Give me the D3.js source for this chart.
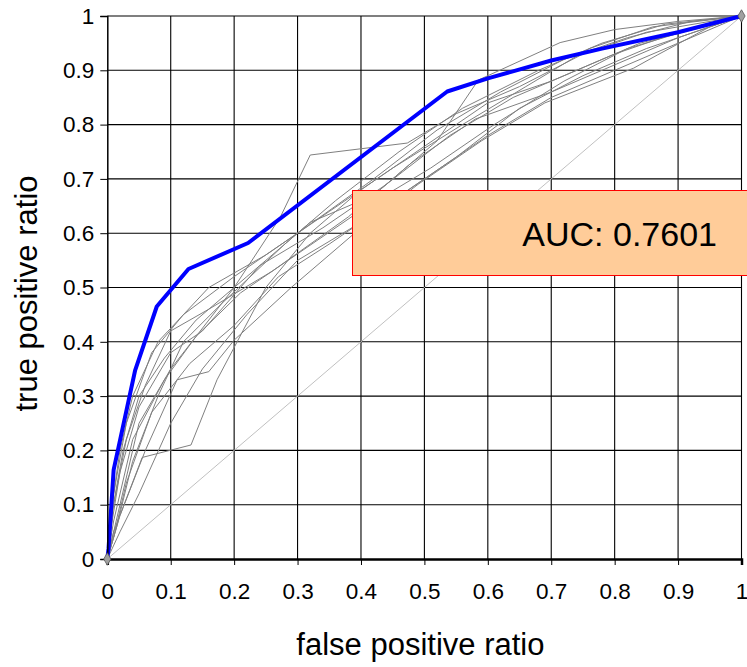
<!DOCTYPE html>
<html><head><meta charset="utf-8">
<script src="https://cdn.jsdelivr.net/npm/d3@7"></script>
<style>html,body{margin:0;padding:0;background:#fff;}svg{display:block;font-family:"Liberation Sans",Arial,sans-serif;}</style>
</head><body><svg id="c" width="747" height="667"></svg>
<script>
const tickValues = [0,0.1,0.2,0.3,0.4,0.5,0.6,0.7,0.8,0.9,1];
const tickLabels = ["0","0.1","0.2","0.3","0.4","0.5","0.6","0.7","0.8","0.9","1"];
const xTitle = "false positive ratio";
const yTitle = "true positive ratio";
const aucLabel = "AUC: 0.7601";
const meanCurve = [[0,0],[0.002,0.02],[0.01,0.164],[0.044,0.348],[0.078,0.465],[0.128,0.534],[0.222,0.582],[0.536,0.861],[0.6,0.885],[0.7,0.918],[0.78,0.94],[0.9,0.97],[1,1]];
const foldCurves = [
 [[0,0],[0.01,0.05],[0.055,0.187],[0.132,0.21],[0.173,0.33],[0.25,0.5],[0.32,0.6],[0.4,0.68],[0.5,0.76],[0.6,0.84],[0.7,0.88],[0.8,0.93],[0.9,0.97],[1,1]],
 [[0,0],[0.02,0.1],[0.05,0.25],[0.1,0.35],[0.2,0.5],[0.273,0.63],[0.32,0.744],[0.473,0.766],[0.55,0.82],[0.65,0.87],[0.75,0.93],[0.85,0.97],[1,1]],
 [[0,0],[0.01,0.12],[0.03,0.25],[0.07,0.38],[0.12,0.45],[0.2,0.52],[0.3,0.6],[0.42,0.7],[0.52,0.79],[0.62,0.86],[0.72,0.92],[0.82,0.96],[0.92,0.99],[1,1]],
 [[0,0],[0.02,0.05],[0.05,0.12],[0.1,0.25],[0.15,0.35],[0.22,0.45],[0.3,0.55],[0.4,0.62],[0.5,0.7],[0.6,0.78],[0.7,0.85],[0.8,0.9],[0.9,0.95],[1,1]],
 [[0,0],[0.005,0.08],[0.02,0.2],[0.04,0.3],[0.08,0.4],[0.16,0.5],[0.25,0.56],[0.35,0.64],[0.45,0.72],[0.56,0.8],[0.66,0.87],[0.76,0.94],[0.86,0.98],[1,1]],
 [[0,0],[0.01,0.1],[0.03,0.22],[0.06,0.32],[0.1,0.42],[0.16,0.46],[0.26,0.53],[0.38,0.63],[0.48,0.73],[0.58,0.81],[0.7,0.86],[0.8,0.91],[0.9,0.96],[1,1]],
 [[0,0],[0.015,0.06],[0.04,0.18],[0.08,0.3],[0.12,0.4],[0.18,0.47],[0.28,0.58],[0.36,0.66],[0.46,0.75],[0.56,0.83],[0.68,0.9],[0.78,0.95],[0.88,0.985],[1,1]],
 [[0,0],[0.01,0.04],[0.03,0.14],[0.07,0.27],[0.13,0.36],[0.2,0.43],[0.27,0.52],[0.35,0.58],[0.45,0.66],[0.55,0.74],[0.65,0.83],[0.75,0.89],[0.85,0.94],[1,1]],
 [[0,0],[0.008,0.09],[0.025,0.2],[0.05,0.3],[0.09,0.37],[0.14,0.44],[0.22,0.52],[0.32,0.62],[0.42,0.67],[0.52,0.77],[0.585,0.882],[0.714,0.951],[0.8,0.975],[0.9,0.99],[1,1]],
 [[0,0],[0.02,0.08],[0.06,0.2],[0.11,0.33],[0.16,0.345],[0.2,0.403],[0.29,0.5],[0.39,0.6],[0.49,0.69],[0.59,0.77],[0.69,0.84],[0.83,0.904],[0.867,0.928],[0.95,0.98],[1,1]],
 [[0,0],[0.005,0.05],[0.02,0.16],[0.05,0.28],[0.1,0.38],[0.15,0.42],[0.24,0.54],[0.34,0.61],[0.44,0.69],[0.54,0.78],[0.64,0.85],[0.74,0.9],[0.84,0.95],[0.94,0.98],[1,1]],
 [[0,0],[0.01,0.07],[0.04,0.22],[0.09,0.33],[0.14,0.41],[0.21,0.49],[0.31,0.57],[0.41,0.65],[0.51,0.72],[0.61,0.8],[0.72,0.88],[0.82,0.94],[0.92,0.975],[1,1]]
];

const svg=d3.select("#c");
const x=d3.scaleLinear().domain([0,1]).range([107.3,741.5]);
const y=d3.scaleLinear().domain([0,1]).range([559,16]);

// grid
const g=svg.append("g");
g.selectAll("line.vx").data(tickValues.slice(1)).join("line")
 .attr("x1",d=>x(d)).attr("x2",d=>x(d)).attr("y1",y(0)).attr("y2",y(1))
 .attr("stroke","#000").attr("stroke-width",1.1);
g.selectAll("line.hy").data(tickValues.slice(1)).join("line")
 .attr("y1",d=>y(d)).attr("y2",d=>y(d)).attr("x1",x(0)).attr("x2",x(1))
 .attr("stroke","#000").attr("stroke-width",1.1);

// diagonal
svg.append("line").attr("x1",x(0)).attr("y1",y(0)).attr("x2",x(1)).attr("y2",y(1))
 .attr("stroke","#c0c0c0").attr("stroke-width",1);

const line=d3.line().x(d=>x(d[0])).y(d=>y(d[1]));
svg.append("g").selectAll("path").data(foldCurves).join("path")
 .attr("d",line).attr("fill","none").attr("stroke","#808080").attr("stroke-width",1);
svg.append("path").datum(meanCurve).attr("d",line).attr("fill","none")
 .attr("stroke","#0000ff").attr("stroke-width",4).attr("stroke-linejoin","round");

// axes
const xAxis=d3.axisBottom(x).tickValues(tickValues).tickFormat((d,i)=>tickLabels[i]).tickSize(6).tickPadding(18);
const ax=svg.append("g").attr("transform",`translate(0,${y(0)})`).call(xAxis);
ax.select(".domain").attr("stroke","#000").attr("stroke-width",2.5);
ax.selectAll("text").attr("font-size",22.5).attr("fill","#000").attr("font-family","Liberation Sans, Arial, sans-serif");
ax.selectAll(".tick line").attr("stroke","#000");
const yAxis=d3.axisLeft(y).tickValues(tickValues).tickFormat((d,i)=>tickLabels[i]).tickSize(7).tickPadding(6);
const ay=svg.append("g").attr("transform",`translate(${x(0)},0)`).call(yAxis);
ay.select(".domain").attr("stroke","#000").attr("stroke-width",1.5);
ay.selectAll("text").attr("font-size",22.5).attr("fill","#000").attr("font-family","Liberation Sans, Arial, sans-serif");
ay.selectAll(".tick line").attr("stroke","#000");

// markers at ends
const sym=d3.symbol().type(d3.symbolDiamond).size(45);
svg.selectAll("path.mk").data([[0,0],[1,1]]).join("path")
 .attr("transform",d=>`translate(${x(d[0])},${y(d[1])})`)
 .attr("d",sym).attr("fill","#a0a0a0").attr("stroke","#555").attr("stroke-width",0.8);

// titles
svg.append("text").attr("x",(x(0)+x(1))/2-4).attr("y",655).attr("text-anchor","middle")
 .attr("font-size",31).text(xTitle);
svg.append("text").attr("transform",`translate(37,${(y(0)+y(1))/2+6}) rotate(-90)`).attr("text-anchor","middle")
 .attr("font-size",31).text(yTitle);

// AUC box
svg.append("rect").attr("x",352.5).attr("y",190.5).attr("width",420).attr("height",85)
 .attr("fill","#ffcc99").attr("stroke","#ff0000").attr("stroke-width",1);
svg.append("text").attr("x",717).attr("y",246).attr("text-anchor","end").attr("font-size",34).text(aucLabel);
</script></body></html>
